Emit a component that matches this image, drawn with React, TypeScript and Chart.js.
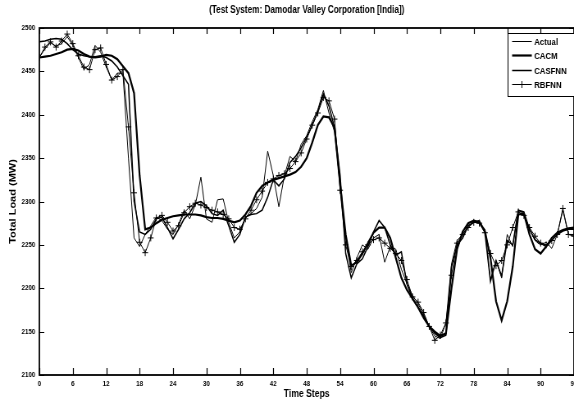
import React, { useEffect, useRef } from 'react';
import { Chart, registerables } from 'chart.js';

Chart.register(...registerables);

const TITLE = '(Test System: Damodar Valley Corporation [India])';
const X_TITLE = 'Time Steps';
const Y_TITLE = 'Total Load (MW)';
const SERIES_NAMES = ['Actual', 'CACM', 'CASFNN', 'RBFNN'];

const X_MIN = 0;
const X_MAX = 96;
const X_STEP = 6;
const Y_MIN = 2100;
const Y_MAX = 2500;
const Y_STEP = 50;

const TIME_STEPS = Array.from({ length: 97 }, (_, i) => i);

const ACTUAL = [
  2466, 2476, 2483, 2479, 2482, 2490, 2480, 2466, 2452, 2458,
  2480, 2472, 2455, 2440, 2448, 2448, 2350, 2258, 2248, 2262,
  2272, 2282, 2278, 2268, 2262, 2274, 2290, 2280, 2296, 2328,
  2280, 2276, 2302, 2303, 2276, 2258, 2265, 2282, 2286, 2292,
  2305, 2358, 2330, 2294, 2330, 2352, 2346, 2366, 2376, 2392,
  2406, 2428, 2402, 2380, 2320, 2258, 2218, 2235, 2250, 2245,
  2258, 2262, 2230, 2248, 2245, 2222, 2205, 2192, 2182, 2170,
  2155, 2145, 2142, 2160, 2228, 2255, 2262, 2272, 2276, 2276,
  2268, 2210, 2232, 2212, 2262, 2248, 2290, 2286, 2268, 2255,
  2250, 2253, 2246, 2262, 2290, 2262, 2262,
];

const CACM = [
  2466, 2467, 2468, 2470, 2472, 2475, 2476, 2474, 2470, 2467,
  2466, 2467, 2469, 2468, 2464, 2456, 2448, 2425, 2330, 2268,
  2270, 2275, 2279, 2281, 2283, 2284, 2285, 2285, 2285, 2284,
  2282, 2281, 2281, 2280, 2278, 2276, 2278, 2285, 2295, 2310,
  2318, 2322, 2325, 2327, 2329, 2331, 2334, 2340, 2350, 2368,
  2388, 2398, 2397, 2385, 2320, 2262, 2226, 2230, 2240, 2252,
  2264, 2270, 2270, 2258, 2235, 2212, 2198, 2188, 2178, 2166,
  2156, 2150, 2145, 2148, 2200, 2245, 2265, 2275, 2278, 2276,
  2266, 2235, 2185, 2163, 2185, 2225, 2285, 2286, 2262, 2245,
  2240, 2248, 2258, 2264, 2267, 2269, 2270,
];

const CASFNN = [
  2484, 2485, 2487, 2488, 2487, 2482, 2475, 2470, 2468, 2467,
  2467, 2468, 2466, 2462, 2455, 2445, 2435, 2300, 2265, 2262,
  2268, 2280, 2282, 2270, 2257, 2268, 2280, 2287, 2298, 2300,
  2295, 2286, 2284, 2290, 2272, 2253, 2262, 2282, 2285, 2286,
  2290, 2305, 2325, 2318, 2326, 2345, 2352, 2362, 2374, 2388,
  2404, 2424, 2410, 2385, 2330, 2240, 2212, 2228, 2234, 2248,
  2265, 2278, 2270, 2250, 2238, 2242, 2205, 2188, 2178, 2168,
  2156, 2148, 2143, 2146, 2225, 2250, 2258, 2272, 2276, 2278,
  2264, 2208, 2232, 2214, 2255, 2250, 2290, 2288, 2268, 2256,
  2252, 2248, 2255, 2262, 2266, 2268, 2268,
];

const RBFNN = [
  2466, 2478, 2484, 2478, 2485, 2493, 2482, 2468, 2455, 2452,
  2475, 2477, 2458, 2440, 2444, 2452, 2386, 2310, 2253, 2241,
  2258, 2281, 2284, 2276, 2266, 2272, 2287, 2294, 2298, 2296,
  2293, 2290, 2288, 2285, 2280, 2270, 2268, 2280, 2290, 2302,
  2312, 2322, 2326, 2330, 2332, 2338, 2346, 2356, 2372, 2388,
  2402, 2420, 2416, 2395, 2313, 2250, 2225, 2232, 2242, 2250,
  2256, 2258, 2252, 2246, 2240, 2232, 2210, 2190, 2184, 2172,
  2156, 2140, 2146, 2160, 2215, 2252, 2262, 2270, 2276, 2275,
  2264, 2240, 2226, 2232, 2250, 2270, 2288, 2284, 2270, 2260,
  2252, 2250, 2255, 2262, 2292, 2262, 2260,
];

// The figure is horizontally condensed: the canvas is drawn wider and shown at 574px.
const VIEW_W = 574;
const VIEW_H = 401;
const SQUEEZE = 0.82;
const CANVAS_W = Math.round(VIEW_W / SQUEEZE);

const FONT = "'Liberation Sans', Arial, Helvetica, sans-serif";

const framePlugin = {
  id: 'frameAndLegend',
  afterDatasetsDraw(chart: any) {
    const { ctx, chartArea: a, scales } = chart;
    const xs = scales.x;
    const ys = scales.y;
    ctx.save();
    ctx.strokeStyle = '#000';
    ctx.lineWidth = 1.2;
    ctx.beginPath();
    xs.ticks.forEach((t: any) => {
      const px = Math.round(xs.getPixelForValue(t.value)) + 0.5;
      ctx.moveTo(px, a.bottom);
      ctx.lineTo(px, a.bottom - 7);
      ctx.moveTo(px, a.top);
      ctx.lineTo(px, a.top + 6);
    });
    ctx.stroke();
    ctx.lineWidth = 1;
    ctx.beginPath();
    ys.ticks.forEach((t: any) => {
      const py = Math.round(ys.getPixelForValue(t.value)) + 0.5;
      ctx.moveTo(a.left, py);
      ctx.lineTo(a.left + 6, py);
      ctx.moveTo(a.right, py);
      ctx.lineTo(a.right - 6, py);
    });
    ctx.stroke();
    ctx.lineWidth = 1.8;
    ctx.strokeRect(a.left, a.top, a.right - a.left, a.bottom - a.top);

    // legend box
    const bx = Math.round(a.right - 81) + 0.5;
    const by = Math.round(a.top + 5) + 0.5;
    const bw = 90;
    const bh = 63;
    ctx.fillStyle = '#fff';
    ctx.fillRect(bx, by, bw, bh);
    ctx.lineWidth = 1;
    ctx.strokeRect(bx, by, bw, bh);
    const rowY = [8, 22, 37, 51];
    chart.data.datasets.forEach((ds: any, i: number) => {
      const y = by + rowY[i];
      ctx.strokeStyle = '#000';
      ctx.lineWidth = ds.borderWidth;
      ctx.beginPath();
      ctx.moveTo(bx + 5, y);
      ctx.lineTo(bx + 29, y);
      ctx.stroke();
      if (ds.pointStyle === 'cross') {
        ctx.lineWidth = 1;
        ctx.beginPath();
        ctx.moveTo(bx + 17, y - 3.5);
        ctx.lineTo(bx + 17, y + 3.5);
        ctx.moveTo(bx + 13, y);
        ctx.lineTo(bx + 21, y);
        ctx.stroke();
      }
      ctx.fillStyle = '#000';
      ctx.font = `bold 9.5px ${FONT}`;
      ctx.textAlign = 'left';
      ctx.textBaseline = 'middle';
      ctx.fillText(ds.label, bx + 32, y + 0.5);
    });
    ctx.restore();
  },
};

function makeData(values: number[]) {
  return TIME_STEPS.map((x, i) => ({ x, y: values[i] }));
}

export default function App() {
  const ref = useRef<HTMLCanvasElement | null>(null);

  useEffect(() => {
    document.body.style.margin = '0';
    const canvas = ref.current;
    if (!canvas) return;
    const chart = new Chart(canvas, {
      type: 'line',
      data: {
        datasets: [
          {
            label: SERIES_NAMES[0],
            data: makeData(ACTUAL),
            borderColor: '#000',
            borderWidth: 1,
            pointRadius: 0,
            tension: 0,
          },
          {
            label: SERIES_NAMES[1],
            data: makeData(CACM),
            borderColor: '#000',
            borderWidth: 2.2,
            pointRadius: 0,
            tension: 0,
          },
          {
            label: SERIES_NAMES[2],
            data: makeData(CASFNN),
            borderColor: '#000',
            borderWidth: 1.5,
            pointRadius: 0,
            tension: 0,
          },
          {
            label: SERIES_NAMES[3],
            data: makeData(RBFNN),
            borderColor: '#000',
            borderWidth: 1,
            pointStyle: 'cross',
            pointRadius: 3.5,
            pointBorderWidth: 1,
            pointBorderColor: '#000',
            pointBackgroundColor: '#000',
            tension: 0,
          },
        ],
      } as any,
      options: {
        responsive: false,
        animation: false,
        devicePixelRatio: 1,
        layout: { padding: 0, autoPadding: false },
        plugins: {
          legend: { display: false },
          tooltip: { enabled: false },
          title: {
            display: true,
            text: TITLE,
            fullSize: false,
            color: '#000',
            font: { family: FONT, size: 10, weight: 'bold', lineHeight: 1.2 },
            padding: { top: 4, bottom: 12 },
          },
        },
        scales: {
          x: {
            type: 'linear',
            min: X_MIN,
            max: X_MAX,
            border: { display: false },
            grid: { display: false, drawTicks: false },
            ticks: {
              stepSize: X_STEP,
              autoSkip: false,
              maxRotation: 0,
              padding: 4,
              color: '#000',
              font: { family: FONT, size: 7.5, weight: 'bold' },
              callback: (v: any) => String(v),
            },
            title: {
              display: true,
              text: X_TITLE,
              color: '#000',
              font: { family: FONT, size: 10.5, weight: 'bold', lineHeight: 1.2 },
              padding: { top: 0, bottom: 1 },
            },
            afterFit(scale: any) {
              scale.height = 26;
              scale.paddingLeft = 0;
              scale.paddingRight = 0;
            },
          },
          y: {
            type: 'linear',
            min: Y_MIN,
            max: Y_MAX,
            border: { display: false },
            grid: { display: false, drawTicks: false },
            ticks: {
              stepSize: Y_STEP,
              autoSkip: false,
              padding: 5,
              color: '#000',
              font: { family: FONT, size: 7.5, weight: 'bold' },
              callback: (v: any) => String(v),
            },
            title: {
              display: true,
              text: Y_TITLE,
              color: '#000',
              font: { family: FONT, size: 11, weight: 'bold', lineHeight: 1.2 },
              padding: { top: 9, bottom: 0 },
            },
            afterFit(scale: any) {
              scale.width = 48;
            },
          },
        },
      } as any,
      plugins: [framePlugin],
    });
    return () => chart.destroy();
  }, []);

  return (
    <div
      style={{
        position: 'absolute',
        left: 0,
        top: 0,
        width: VIEW_W,
        height: VIEW_H,
        overflow: 'hidden',
        background: '#fff',
      }}
    >
      <canvas
        ref={ref}
        width={CANVAS_W}
        height={VIEW_H}
        style={{ display: 'block', width: `${VIEW_W}px`, height: `${VIEW_H}px` }}
      />
    </div>
  );
}
